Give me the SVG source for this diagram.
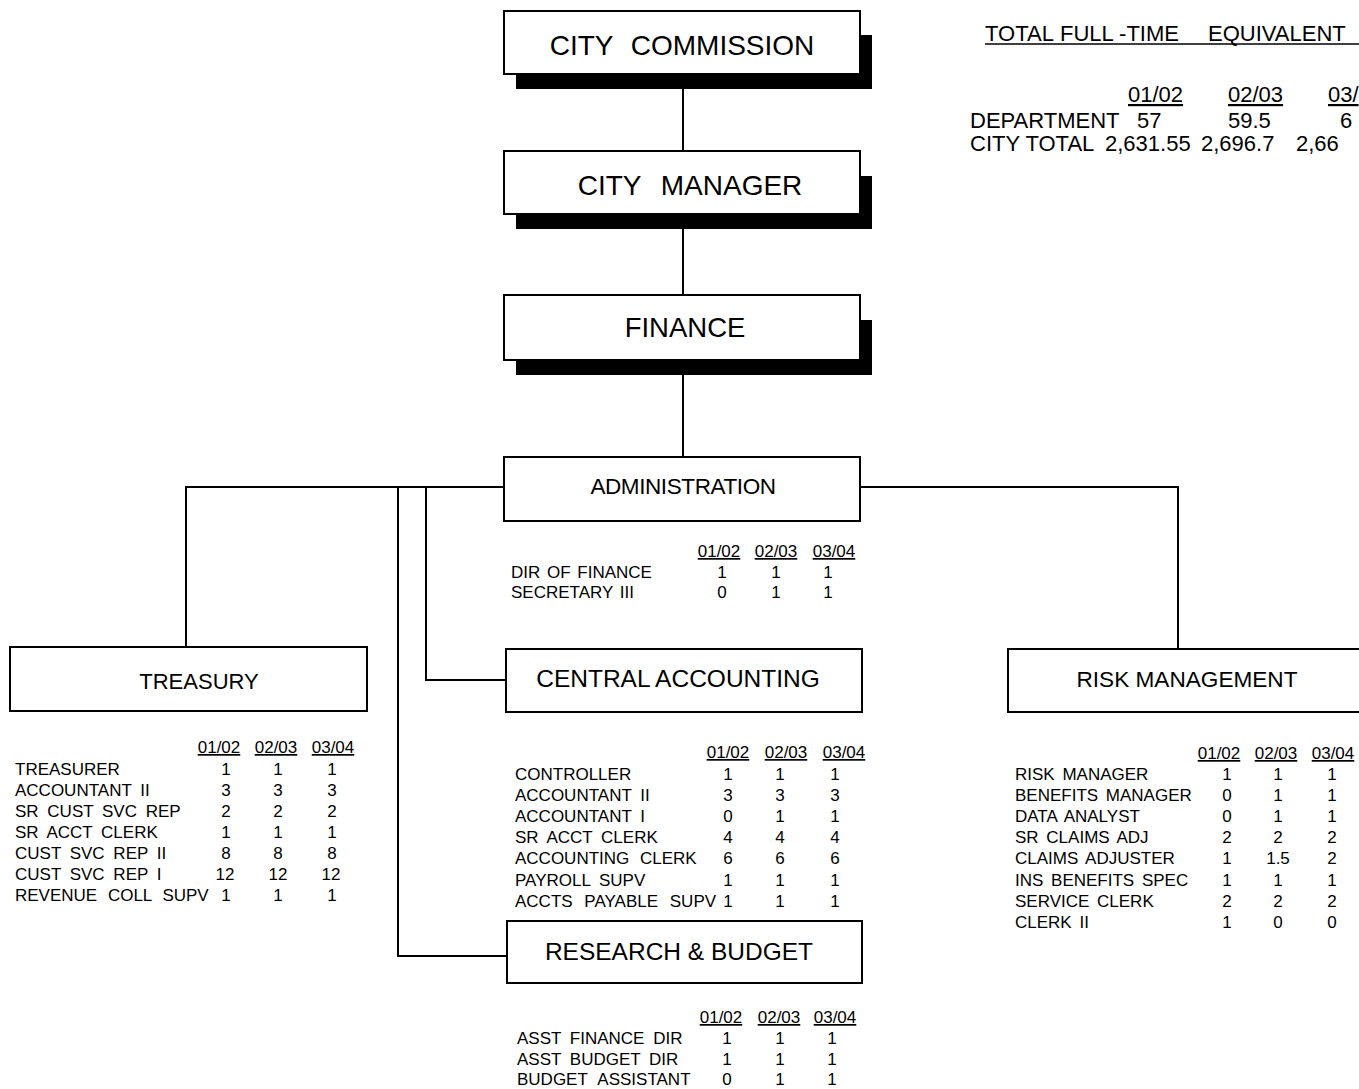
<svg xmlns="http://www.w3.org/2000/svg" width="1359" height="1089" viewBox="0 0 1359 1089">
<style>
text{font-family:"Liberation Sans",Arial,sans-serif;fill:#000}
.box{fill:#fff;stroke:#000;stroke-width:2}
.shadow{fill:#000}
.big{font-size:28px;text-anchor:middle}
.mid{text-anchor:middle}
.t{font-size:17px}
.hd{font-size:17px;text-decoration:underline;text-anchor:middle}
.n{font-size:17px;text-anchor:middle}
.fte{font-size:22px}
.fteh{font-size:22px;text-decoration:underline}
.conn{stroke:#000;stroke-width:2;fill:none}
#node-administration .t{word-spacing:2px}
#node-treasury .t,#node-central-accounting .t,#node-research-budget .t{word-spacing:4px}
#node-risk-management .t{word-spacing:3px}
.w6{word-spacing:6px !important}
.w7{word-spacing:7px !important}
</style>
<rect width="1359" height="1089" fill="#fff"/>

<g id="connectors">
<line class="conn" x1="683" y1="89" x2="683" y2="151"/>
<line class="conn" x1="683" y1="229" x2="683" y2="295"/>
<line class="conn" x1="683" y1="375" x2="683" y2="457"/>
<polyline class="conn" points="504,487 186,487 186,647"/>
<polyline class="conn" points="860,487 1178,487 1178,649"/>
<polyline class="conn" points="426,487 426,680 506,680"/>
<polyline class="conn" points="398,487 398,956 507,956"/>
</g>

<g id="node-city-commission">
<rect class="shadow" x="516" y="35" width="356" height="54"/>
<rect class="box" x="504" y="11" width="356" height="63"/>
<text class="big" x="682" y="55" word-spacing="10">CITY COMMISSION</text>
</g>

<g id="node-city-manager">
<rect class="shadow" x="516" y="176" width="356" height="53"/>
<rect class="box" x="504" y="151" width="356" height="63"/>
<text class="big" x="690" y="195" word-spacing="12">CITY MANAGER</text>
</g>

<g id="node-finance">
<rect class="shadow" x="516" y="320" width="356" height="55"/>
<rect class="box" x="504" y="295" width="356" height="65"/>
<text class="big" x="685" y="337" style="font-size:27.5px">FINANCE</text>
</g>

<g id="node-administration">
<rect class="box" x="504" y="457" width="356" height="64"/>
<text class="mid" x="683" y="494" font-size="22.5" letter-spacing="-0.4">ADMINISTRATION</text>
<text class="hd" x="719" y="557">01/02</text>
<text class="hd" x="776" y="557">02/03</text>
<text class="hd" x="834" y="557">03/04</text>
<text class="t" x="511" y="578">DIR OF FINANCE</text>
<text class="n" x="722" y="578">1</text><text class="n" x="776" y="578">1</text><text class="n" x="828" y="578">1</text>
<text class="t" x="511" y="598">SECRETARY III</text>
<text class="n" x="722" y="598">0</text><text class="n" x="776" y="598">1</text><text class="n" x="828" y="598">1</text>
</g>

<g id="node-treasury">
<rect class="box" x="10" y="647" width="357" height="64"/>
<text class="mid" x="199" y="689" font-size="22">TREASURY</text>
<text class="hd" x="219" y="753">01/02</text>
<text class="hd" x="276" y="753">02/03</text>
<text class="hd" x="333" y="753">03/04</text>
<text class="t" x="15" y="775">TREASURER</text>
<text class="n" x="226" y="775">1</text><text class="n" x="278" y="775">1</text><text class="n" x="332" y="775">1</text>
<text class="t" x="15" y="796">ACCOUNTANT II</text>
<text class="n" x="226" y="796">3</text><text class="n" x="278" y="796">3</text><text class="n" x="332" y="796">3</text>
<text class="t" x="15" y="817">SR CUST SVC REP</text>
<text class="n" x="226" y="817">2</text><text class="n" x="278" y="817">2</text><text class="n" x="332" y="817">2</text>
<text class="t" x="15" y="838">SR ACCT CLERK</text>
<text class="n" x="226" y="838">1</text><text class="n" x="278" y="838">1</text><text class="n" x="332" y="838">1</text>
<text class="t" x="15" y="859">CUST SVC REP II</text>
<text class="n" x="226" y="859">8</text><text class="n" x="278" y="859">8</text><text class="n" x="332" y="859">8</text>
<text class="t" x="15" y="880">CUST SVC REP I</text>
<text class="n" x="225" y="880">12</text><text class="n" x="278" y="880">12</text><text class="n" x="331" y="880">12</text>
<text class="t w6" x="15" y="901">REVENUE COLL SUPV</text>
<text class="n" x="226" y="901">1</text><text class="n" x="278" y="901">1</text><text class="n" x="332" y="901">1</text>
</g>

<g id="node-central-accounting">
<rect class="box" x="506" y="649" width="356" height="63"/>
<text class="mid" x="678" y="687" font-size="24.5">CENTRAL ACCOUNTING</text>
<text class="hd" x="728" y="758">01/02</text>
<text class="hd" x="786" y="758">02/03</text>
<text class="hd" x="844" y="758">03/04</text>
<text class="t" x="515" y="780">CONTROLLER</text>
<text class="n" x="728" y="780">1</text><text class="n" x="780" y="780">1</text><text class="n" x="835" y="780">1</text>
<text class="t" x="515" y="801">ACCOUNTANT II</text>
<text class="n" x="728" y="801">3</text><text class="n" x="780" y="801">3</text><text class="n" x="835" y="801">3</text>
<text class="t" x="515" y="822">ACCOUNTANT I</text>
<text class="n" x="728" y="822">0</text><text class="n" x="780" y="822">1</text><text class="n" x="835" y="822">1</text>
<text class="t" x="515" y="843">SR ACCT CLERK</text>
<text class="n" x="728" y="843">4</text><text class="n" x="780" y="843">4</text><text class="n" x="835" y="843">4</text>
<text class="t w6" x="515" y="864">ACCOUNTING CLERK</text>
<text class="n" x="728" y="864">6</text><text class="n" x="780" y="864">6</text><text class="n" x="835" y="864">6</text>
<text class="t" x="515" y="886">PAYROLL SUPV</text>
<text class="n" x="728" y="886">1</text><text class="n" x="780" y="886">1</text><text class="n" x="835" y="886">1</text>
<text class="t w7" x="515" y="907">ACCTS PAYABLE SUPV</text>
<text class="n" x="728" y="907">1</text><text class="n" x="780" y="907">1</text><text class="n" x="835" y="907">1</text>
</g>

<g id="node-research-budget">
<rect class="box" x="507" y="921" width="355" height="62"/>
<text class="mid" x="679" y="960" font-size="24.5">RESEARCH &amp; BUDGET</text>
<text class="hd" x="721" y="1023">01/02</text>
<text class="hd" x="779" y="1023">02/03</text>
<text class="hd" x="835" y="1023">03/04</text>
<text class="t" x="517" y="1044">ASST FINANCE DIR</text>
<text class="n" x="727" y="1044">1</text><text class="n" x="780" y="1044">1</text><text class="n" x="832" y="1044">1</text>
<text class="t" x="517" y="1065">ASST BUDGET DIR</text>
<text class="n" x="727" y="1065">1</text><text class="n" x="780" y="1065">1</text><text class="n" x="832" y="1065">1</text>
<text class="t w6" x="517" y="1085">BUDGET ASSISTANT</text>
<text class="n" x="727" y="1085">0</text><text class="n" x="780" y="1085">1</text><text class="n" x="832" y="1085">1</text>
</g>

<g id="node-risk-management">
<rect class="box" x="1008" y="649" width="360" height="63"/>
<text class="mid" x="1187" y="687" font-size="22.6">RISK MANAGEMENT</text>
<text class="hd" x="1219" y="759">01/02</text>
<text class="hd" x="1276" y="759">02/03</text>
<text class="hd" x="1333" y="759">03/04</text>
<text class="t" x="1015" y="780">RISK MANAGER</text>
<text class="n" x="1227" y="780">1</text><text class="n" x="1278" y="780">1</text><text class="n" x="1332" y="780">1</text>
<text class="t" x="1015" y="801">BENEFITS MANAGER</text>
<text class="n" x="1227" y="801">0</text><text class="n" x="1278" y="801">1</text><text class="n" x="1332" y="801">1</text>
<text class="t" x="1015" y="822">DATA ANALYST</text>
<text class="n" x="1227" y="822">0</text><text class="n" x="1278" y="822">1</text><text class="n" x="1332" y="822">1</text>
<text class="t" x="1015" y="843">SR CLAIMS ADJ</text>
<text class="n" x="1227" y="843">2</text><text class="n" x="1278" y="843">2</text><text class="n" x="1332" y="843">2</text>
<text class="t" x="1015" y="864">CLAIMS ADJUSTER</text>
<text class="n" x="1227" y="864">1</text><text class="n" x="1278" y="864">1.5</text><text class="n" x="1332" y="864">2</text>
<text class="t" x="1015" y="886">INS BENEFITS SPEC</text>
<text class="n" x="1227" y="886">1</text><text class="n" x="1278" y="886">1</text><text class="n" x="1332" y="886">1</text>
<text class="t" x="1015" y="907">SERVICE CLERK</text>
<text class="n" x="1227" y="907">2</text><text class="n" x="1278" y="907">2</text><text class="n" x="1332" y="907">2</text>
<text class="t" x="1015" y="928">CLERK II</text>
<text class="n" x="1227" y="928">1</text><text class="n" x="1278" y="928">0</text><text class="n" x="1332" y="928">0</text>
</g>

<g id="fte-table">
<text class="fte" y="41"><tspan x="985">TOTAL</tspan><tspan x="1060">FULL -TIME</tspan><tspan x="1208">EQUIVALENT</tspan></text>
<line x1="985" y1="44" x2="1359" y2="44" stroke="#000" stroke-width="1.5"/>
<text class="fteh" x="1128" y="102">01/02</text>
<text class="fteh" x="1228" y="102">02/03</text>
<text class="fteh" x="1328" y="102">03/</text>
<text class="fte" x="970" y="128">DEPARTMENT</text>
<text class="fte" x="1137" y="128">57</text>
<text class="fte" x="1228" y="128">59.5</text>
<text class="fte" x="1340" y="128">6</text>
<text class="fte" x="970" y="151">CITY TOTAL</text>
<text class="fte" x="1105" y="151">2,631.55</text>
<text class="fte" x="1201" y="151">2,696.7</text>
<text class="fte" x="1296" y="151">2,66</text>
</g>
</svg>
